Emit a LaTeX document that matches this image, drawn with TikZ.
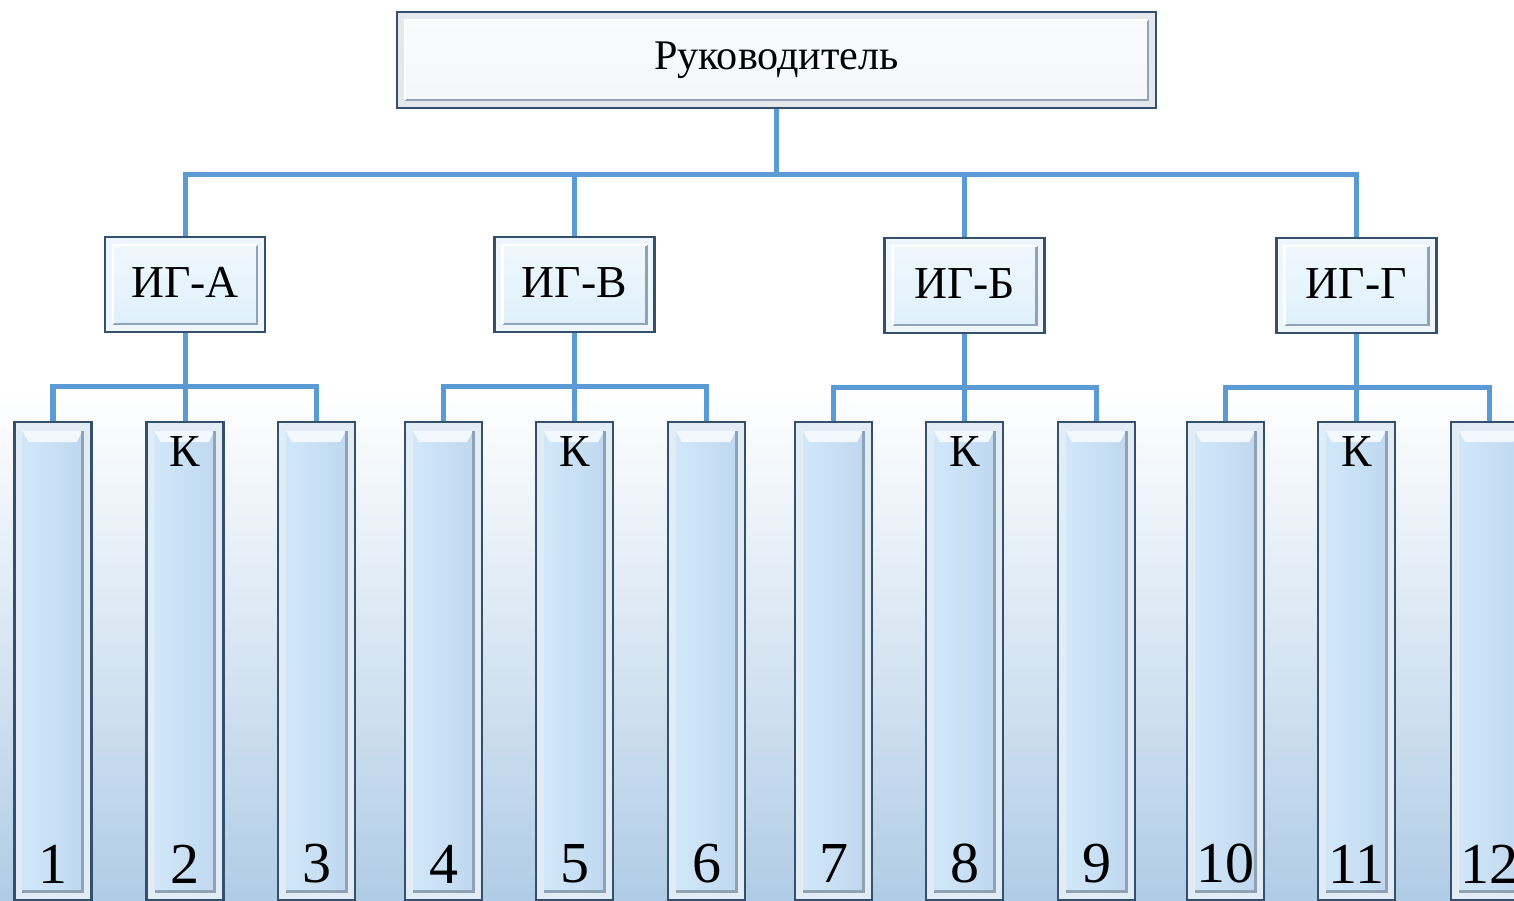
\documentclass[tikz,border=0pt]{standalone}
\usepackage{fontspec}
\setmainfont{Liberation Serif}
\usetikzlibrary{positioning}

\definecolor{linkblue}{HTML}{5B9BD5}
\definecolor{edgedark}{HTML}{34506C}
\definecolor{framegray}{HTML}{C9D0D8}
\definecolor{bevelgray}{HTML}{8FA3B5}
\definecolor{chiefface}{HTML}{F4F6F8}
\definecolor{grpface}{HTML}{DDEFFB}
\definecolor{grpframe}{HTML}{EEF5FB}
\definecolor{colframe}{HTML}{E2ECF5}
\definecolor{colA}{HTML}{D4E9FB}
\definecolor{colB}{HTML}{BDD6EE}
\definecolor{bgblue}{HTML}{B0CCE6}

\tikzset{
  link/.style={draw=linkblue, line width=0.05cm, line join=miter},
  boxframe/.style={draw=edgedark, line width=0.022cm, inner sep=0pt},
  inset/.style={path picture={
      \shade[top color=#1!40!white, bottom color=#1]
        ([shift={(0.08,-0.08)}]path picture bounding box.north west) rectangle
        ([shift={(-0.08,0.08)}]path picture bounding box.south east);
      \draw[bevelgray, line width=0.025cm]
        ([shift={(-0.08,-0.08)}]path picture bounding box.north east) --
        ([shift={(-0.08,0.08)}]path picture bounding box.south east) --
        ([shift={(0.08,0.08)}]path picture bounding box.south west);
      \draw[white, line width=0.025cm]
        ([shift={(0.08,0.08)}]path picture bounding box.south west) --
        ([shift={(0.08,-0.08)}]path picture bounding box.north west) --
        ([shift={(-0.08,-0.08)}]path picture bounding box.north east);}},
  chief/.style={boxframe, fill=framegray!50, inset=chiefface,
    minimum width=7.59cm, minimum height=0.96cm},
  group/.style={boxframe, fill=grpframe, inset=grpface,
    minimum width=1.6cm, minimum height=0.95cm},
  member/.style={boxframe, fill=colframe, anchor=north,
    minimum width=0.77cm, minimum height=4.78cm,
    path picture={
      \shade[left color=colA, right color=colB]
        ([shift={(0.08,-0.09)}]path picture bounding box.north west) rectangle
        ([shift={(-0.09,0.09)}]path picture bounding box.south east);
      \fill[white!70!colA]
        ([shift={(0.08,-0.09)}]path picture bounding box.north west) --
        ([shift={(-0.09,-0.09)}]path picture bounding box.north east) --
        ([shift={(-0.15,-0.2)}]path picture bounding box.north east) --
        ([shift={(0.14,-0.2)}]path picture bounding box.north west) -- cycle;
      \draw[bevelgray, line width=0.03cm]
        ([shift={(-0.09,-0.09)}]path picture bounding box.north east) --
        ([shift={(-0.09,0.09)}]path picture bounding box.south east) --
        ([shift={(0.08,0.09)}]path picture bounding box.south west);}},
  tag/.style={font=\fontsize{13}{15}\selectfont, inner sep=1pt},
  num/.style={font=\fontsize{16.5}{18}\selectfont, inner sep=1pt}
}

\begin{document}
\begin{tikzpicture}
      \useasboundingbox (0,0) rectangle (15.14,-9.01);
      \clip (0,0) rectangle (15.14,-9.01);
      % background
      \fill[white] (0,0) rectangle (15.14,-9.01);
      \shade[top color=white, bottom color=bgblue] (0,-3.9) rectangle (15.14,-9.01);

      \node[chief, font=\fontsize{12}{14}\selectfont, text depth=0.5ex] (r) at (7.765,-0.60) {Руководитель};

      \node[group, tag, text depth=0.3ex] (ga) at (1.85,-2.845) {ИГ-А};
      \node[group, tag, text depth=0.3ex] (gb) at (5.745,-2.845) {ИГ-В};
      \node[group, tag, text depth=0.3ex] (gc) at (9.645,-2.855) {ИГ-Б};
      \node[group, tag, text depth=0.3ex] (gd) at (13.565,-2.855) {ИГ-Г};

      \coordinate (bus) at (7.765,-1.75);
      \coordinate (ba) at (1.85,-3.87);
      \coordinate (bb) at (5.745,-3.87);
      \coordinate (bc) at (9.645,-3.88);
      \coordinate (bd) at (13.565,-3.88);

      \node[member] (c1) at (0.53,-4.21) {};
      \node[member] (c2) at (1.85,-4.21) {};
      \node[member] (c3) at (3.165,-4.21) {};
      \node[member] (c4) at (4.435,-4.21) {};
      \node[member] (c5) at (5.745,-4.21) {};
      \node[member] (c6) at (7.065,-4.21) {};
      \node[member] (c7) at (8.335,-4.21) {};
      \node[member] (c8) at (9.645,-4.21) {};
      \node[member] (c9) at (10.965,-4.21) {};
      \node[member] (c10) at (12.255,-4.21) {};
      \node[member] (c11) at (13.565,-4.21) {};
      \node[member] (c12) at (14.895,-4.21) {};

      % captains
      \node[tag] (k2) at (1.85,-4.52) {К};
      \node[tag] (k5) at (5.745,-4.52) {К};
      \node[tag] (k8) at (9.645,-4.52) {К};
      \node[tag] (k11) at (13.565,-4.52) {К};

      % numbers
      \node[num] (n1) at (0.53,-8.64) {1};
      \node[num] (n2) at (1.85,-8.64) {2};
      \node[num] (n3) at (3.165,-8.64) {3};
      \node[num] (n4) at (4.435,-8.64) {4};
      \node[num] (n5) at (5.745,-8.64) {5};
      \node[num] (n6) at (7.065,-8.64) {6};
      \node[num] (n7) at (8.335,-8.64) {7};
      \node[num] (n8) at (9.645,-8.64) {8};
      \node[num] (n9) at (10.965,-8.64) {9};
      \node[num] (n10) at (12.255,-8.64) {10};
      \node[num] (n11) at (13.565,-8.64) {11};
      \node[num] (n12) at (14.895,-8.64) {12};

      \draw[link] (r.south) -- (bus);
      \draw[link] (ga.north) |- (bus);
      \draw[link] (gb.north) |- (bus);
      \draw[link] (gc.north) |- (bus);
      \draw[link] (gd.north) |- (bus);

      \draw[link] (ga.south) -- (c2.north);
      \draw[link] (c1.north) |- (ba);
      \draw[link] (c3.north) |- (ba);
      \draw[link] (gb.south) -- (c5.north);
      \draw[link] (c4.north) |- (bb);
      \draw[link] (c6.north) |- (bb);
      \draw[link] (gc.south) -- (c8.north);
      \draw[link] (c7.north) |- (bc);
      \draw[link] (c9.north) |- (bc);
      \draw[link] (gd.south) -- (c11.north);
      \draw[link] (c10.north) |- (bd);
      \draw[link] (c12.north) |- (bd);
\end{tikzpicture}
\end{document}
